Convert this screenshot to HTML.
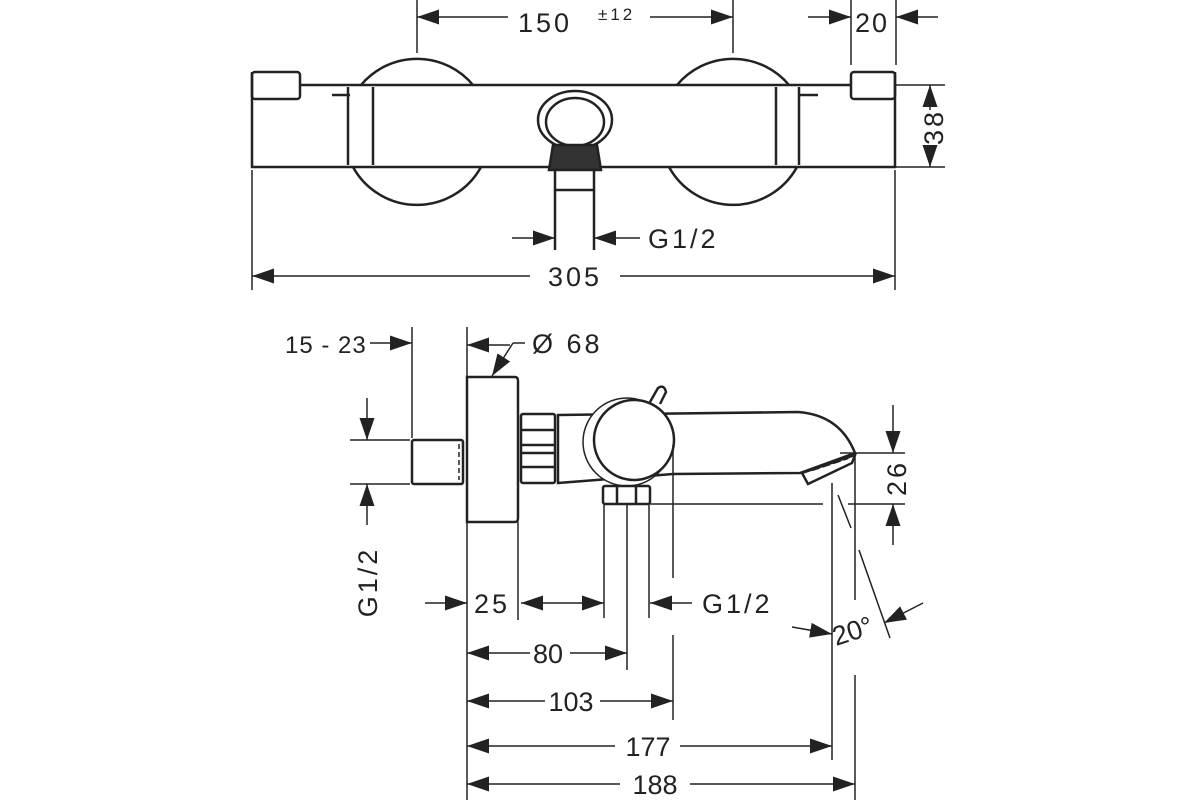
<!DOCTYPE html>
<html><head><meta charset="utf-8"><style>
html,body{margin:0;padding:0;background:#fff;width:1200px;height:800px;overflow:hidden}
text{font-family:"Liberation Sans",sans-serif;font-size:27px;fill:#222;letter-spacing:3px}
</style></head><body>
<svg width="1200" height="800" viewBox="0 0 1200 800" xmlns="http://www.w3.org/2000/svg">
<defs>
<marker id="a" viewBox="0 0 22 15" refX="22" refY="7.5" markerWidth="22" markerHeight="15" markerUnits="userSpaceOnUse" orient="auto"><path d="M0,0 L22,7.5 L0,15 z" fill="#222"/></marker>
</defs>
<g stroke="#222" fill="none" stroke-width="2.5">
<!-- TOP VIEW -->
<path d="M361,85 A73,73 0 0 1 473,85"/>
<path d="M353,167 A73,73 0 0 0 481,167"/>
<path d="M677,85 A73,73 0 0 1 789,85"/>
<path d="M669,167 A73,73 0 0 0 797,167"/>
<path d="M252,72 L252,167 L895,167 L895,72"/>
<rect x="252" y="72" width="48" height="27" rx="3"/>
<rect x="851" y="72" width="44" height="27" rx="3"/>
<line x1="300" y1="85" x2="851" y2="85"/>
<line x1="348" y1="87" x2="348" y2="165"/><line x1="373" y1="87" x2="373" y2="165"/>
<line x1="776" y1="87" x2="776" y2="165"/><line x1="799" y1="87" x2="799" y2="165"/>
<line x1="332" y1="95" x2="350" y2="95"/><line x1="799" y1="95" x2="818" y2="95"/>
<ellipse cx="575" cy="120" rx="37" ry="29" fill="#fff"/>
<ellipse cx="575" cy="122" rx="29" ry="24"/>
<path d="M553,145 L597,145 L601,170 L549,170 Z" fill="#333"/>
<rect x="555" y="170" width="39" height="20" fill="#fff"/>
<line x1="555" y1="190" x2="555" y2="250"/><line x1="594" y1="190" x2="594" y2="250"/>
<!-- top dims -->
<g stroke-width="1.5">
<line x1="417" y1="0" x2="417" y2="53"/><line x1="733" y1="0" x2="733" y2="53"/>
<line x1="851" y1="0" x2="851" y2="65"/><line x1="896" y1="0" x2="896" y2="65"/>
<line x1="895" y1="85" x2="945" y2="85"/><line x1="895" y1="167" x2="945" y2="167"/>
<line x1="252" y1="170" x2="252" y2="290"/><line x1="895" y1="170" x2="895" y2="290"/>
<line x1="508" y1="17" x2="417" y2="17" marker-end="url(#a)"/>
<line x1="650" y1="17" x2="733" y2="17" marker-end="url(#a)"/>
<line x1="808" y1="17" x2="851" y2="17" marker-end="url(#a)"/>
<line x1="938" y1="17" x2="896" y2="17" marker-end="url(#a)"/>
<line x1="930" y1="110" x2="930" y2="85" marker-end="url(#a)"/>
<line x1="930" y1="145" x2="930" y2="167" marker-end="url(#a)"/>
<line x1="512" y1="238" x2="555" y2="238" marker-end="url(#a)"/>
<line x1="640" y1="238" x2="594" y2="238" marker-end="url(#a)"/>
<line x1="530" y1="276" x2="252" y2="276" marker-end="url(#a)"/>
<line x1="620" y1="276" x2="895" y2="276" marker-end="url(#a)"/>
</g>
<!-- SIDE VIEW -->
<rect x="412" y="440" width="51" height="44" rx="2"/>
<line x1="459" y1="444" x2="459" y2="480" stroke-dasharray="5,3" stroke-width="1.5"/>
<path d="M467,377 L515,377 Q518,377 518,381 L518,518 Q518,522 515,522 L467,522 Z" fill="#fff"/>
<rect x="521" y="414" width="34" height="69" rx="2"/>
<line x1="521" y1="430" x2="555" y2="430"/><line x1="521" y1="445" x2="555" y2="445"/><line x1="521" y1="453" x2="555" y2="453"/><line x1="521" y1="467" x2="555" y2="467"/>
<path d="M558,415 L798,412 Q840,415 855,453 L800,473 L673,474 L558,483 Z"/>
<path d="M802,473 L855,455 L852,463 L808,484 Z" fill="#fff"/>
<line x1="812" y1="470" x2="848" y2="458" stroke-dasharray="8,3"/>
<circle cx="627" cy="442" r="44" fill="#fff" stroke-width="1.5"/>
<circle cx="634" cy="440" r="40" fill="#fff"/>
<path d="M650,402 L658,388 Q664,384 666,392 L660,404" fill="#fff"/>
<rect x="603" y="486" width="47" height="18" rx="2"/>
<line x1="617" y1="486" x2="617" y2="504"/><line x1="636" y1="486" x2="636" y2="504"/>
<g stroke-width="1.5">
<line x1="650" y1="504" x2="823" y2="504"/>
<line x1="412" y1="327" x2="412" y2="438"/>
<line x1="467" y1="327" x2="467" y2="376"/>
<line x1="467" y1="522" x2="467" y2="800"/>
<line x1="518" y1="522" x2="518" y2="620"/>
<line x1="604" y1="505" x2="604" y2="618"/><line x1="649" y1="505" x2="649" y2="618"/>
<line x1="627" y1="505" x2="627" y2="670"/>
<line x1="673" y1="445" x2="673" y2="578"/><line x1="673" y1="635" x2="673" y2="720"/>
<line x1="832" y1="483" x2="832" y2="760"/>
<line x1="855" y1="455" x2="855" y2="600"/><line x1="855" y1="675" x2="855" y2="800"/>
<line x1="838" y1="495" x2="851" y2="528"/><line x1="859" y1="550" x2="890" y2="638"/>
<line x1="840" y1="453" x2="905" y2="453"/><line x1="848" y1="504" x2="905" y2="504"/>
<line x1="350" y1="440" x2="410" y2="440"/><line x1="350" y1="484" x2="410" y2="484"/>
<line x1="370" y1="343" x2="412" y2="343" marker-end="url(#a)"/>
<line x1="510" y1="345" x2="467" y2="345" marker-end="url(#a)"/>
<line x1="525" y1="343" x2="513" y2="343"/>
<line x1="513" y1="343" x2="492" y2="376" marker-end="url(#a)"/>
<line x1="367" y1="398" x2="367" y2="440" marker-end="url(#a)"/>
<line x1="367" y1="525" x2="367" y2="484" marker-end="url(#a)"/>
<line x1="893" y1="405" x2="893" y2="453" marker-end="url(#a)"/>
<line x1="893" y1="545" x2="893" y2="504" marker-end="url(#a)"/>
<line x1="425" y1="603" x2="467" y2="603" marker-end="url(#a)"/>
<line x1="560" y1="603" x2="521" y2="603" marker-end="url(#a)"/>
<line x1="560" y1="603" x2="604" y2="603" marker-end="url(#a)"/>
<line x1="692" y1="603" x2="650" y2="603" marker-end="url(#a)"/>
<line x1="530" y1="653" x2="467" y2="653" marker-end="url(#a)"/>
<line x1="570" y1="653" x2="627" y2="653" marker-end="url(#a)"/>
<line x1="545" y1="701" x2="467" y2="701" marker-end="url(#a)"/>
<line x1="600" y1="701" x2="673" y2="701" marker-end="url(#a)"/>
<line x1="615" y1="746" x2="467" y2="746" marker-end="url(#a)"/>
<line x1="680" y1="746" x2="832" y2="746" marker-end="url(#a)"/>
<line x1="620" y1="784" x2="467" y2="784" marker-end="url(#a)"/>
<line x1="690" y1="784" x2="855" y2="784" marker-end="url(#a)"/>
<line x1="792" y1="627" x2="832" y2="634" marker-end="url(#a)"/>
<line x1="923" y1="603" x2="884" y2="623" marker-end="url(#a)"/>
</g>
</g>
<text x="518" y="32">150</text>
<text x="598" y="20" style="font-size:17px">±12</text>
<text x="855" y="32" style="letter-spacing:2px">20</text>
<text transform="translate(943,127) rotate(-90)" text-anchor="middle">38</text>
<text x="648" y="248">G1/2</text>
<text x="575" y="286" text-anchor="middle">305</text>
<text x="285" y="353" style="font-size:24px;letter-spacing:1px">15 - 23</text>
<text x="532" y="353">Ø 68</text>
<text transform="translate(906,478) rotate(-90)" text-anchor="middle">26</text>
<text transform="translate(377,582) rotate(-90)" text-anchor="middle">G1/2</text>
<text x="474" y="613">25</text>
<text x="702" y="613">G1/2</text>
<text x="548" y="663" text-anchor="middle" style="letter-spacing:0">80</text>
<text x="571" y="711" text-anchor="middle" style="letter-spacing:0">103</text>
<text x="648" y="756" text-anchor="middle" style="letter-spacing:0">177</text>
<text x="655" y="794" text-anchor="middle" style="letter-spacing:0">188</text>
<text transform="translate(836,646) rotate(-18)" style="letter-spacing:0">20°</text>
</svg>
</body></html>
